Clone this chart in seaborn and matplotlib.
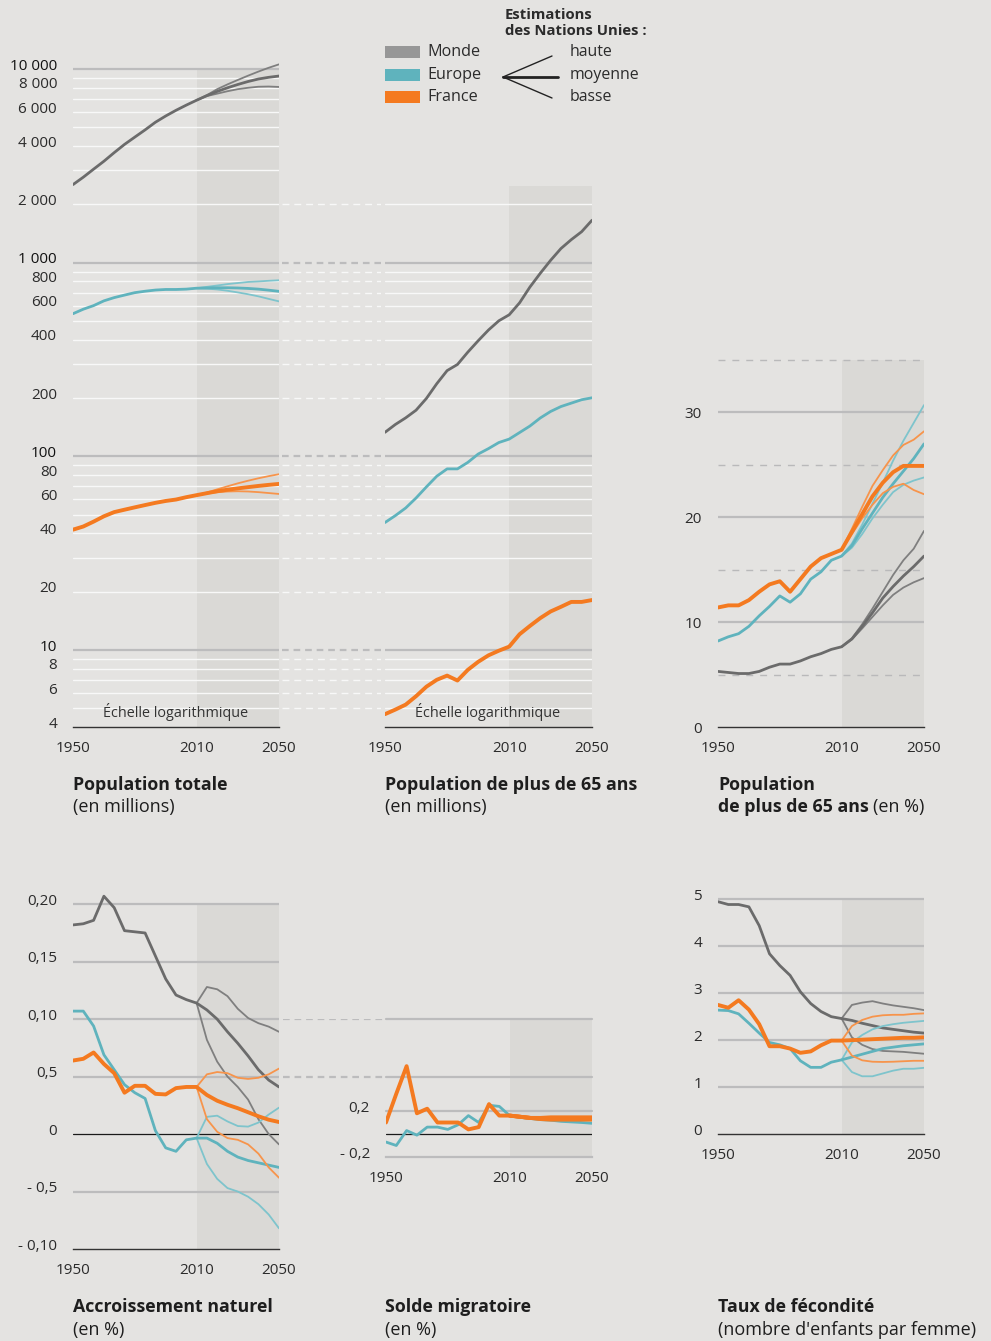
import matplotlib
matplotlib.use("Agg")
import matplotlib.pyplot as plt
import matplotlib.transforms as mtransforms
from matplotlib.lines import Line2D
from matplotlib.patches import Rectangle
import seaborn as sns

sns.set_theme(style="white")
plt.rcParams['font.family'] = ['Open Sans', 'DejaVu Sans']

# ---------------- data ----------------
years_hist = [1950, 1955, 1960, 1965, 1970, 1975, 1980, 1985, 1990, 1995, 2000, 2005, 2010]
years_proj = [2010, 2015, 2020, 2025, 2030, 2035, 2040, 2045, 2050]
years_all = years_hist + years_proj[1:]

# population totale (millions)
tot_monde = [2530, 2763, 3040, 3340, 3700, 4080, 4450, 4850, 5310, 5720, 6120, 6510, 6900]
tot_monde_haute = [6900, 7330, 7870, 8330, 8780, 9240, 9700, 10150, 10570]
tot_monde_moy = [6900, 7290, 7660, 8000, 8320, 8620, 8880, 9060, 9200]
tot_monde_basse = [6900, 7250, 7460, 7680, 7870, 8000, 8100, 8120, 8080]
tot_europe = [545, 575, 600, 635, 660, 680, 700, 712, 722, 727, 727, 730, 738]
tot_europe_haute = [738, 750, 762, 775, 785, 795, 800, 806, 811]
tot_europe_moy = [738, 740, 742, 742, 740, 736, 730, 721, 711]
tot_europe_basse = [738, 734, 727, 716, 702, 687, 670, 650, 631]
tot_france = [41.8, 43.4, 46.0, 49.0, 51.5, 53.0, 54.5, 56.0, 57.5, 58.8, 59.8, 61.5, 63.0]
tot_france_haute = [63.0, 65.0, 67.5, 70.0, 72.5, 74.8, 77.0, 79.0, 80.8]
tot_france_moy = [63.0, 64.5, 66.0, 67.2, 68.3, 69.3, 70.3, 71.2, 72.0]
tot_france_basse = [63.0, 64.2, 65.2, 65.8, 66.0, 65.8, 65.3, 64.6, 63.9]

# population de plus de 65 ans (millions), 1950-2050
p65_monde = [133, 146, 158, 173, 199, 237, 277, 298, 345, 395, 449, 501, 538,
             620, 748, 881, 1028, 1183, 1315, 1445, 1656]
p65_europe = [45.5, 49.4, 54.1, 60.9, 69.5, 78.9, 86.1, 86.1, 93, 102.7, 109.6, 117.8, 122.7,
              132.6, 143.3, 157.7, 170.4, 180.7, 188.2, 196, 200.5]
p65_france = [4.66, 4.92, 5.22, 5.77, 6.46, 7.01, 7.37, 6.95, 7.89, 8.68, 9.38, 9.91, 10.4,
              12.05, 13.3, 14.6, 15.8, 16.7, 17.7, 17.7, 18.1]

# population de plus de 65 ans (%)
pct_monde = [5.3, 5.2, 5.1, 5.1, 5.3, 5.7, 6.0, 6.0, 6.3, 6.7, 7.0, 7.4, 7.65]
pct_monde_haute = [7.65, 8.45, 9.8, 11.3, 12.9, 14.5, 15.9, 17.0, 18.7]
pct_monde_moy = [7.65, 8.4, 9.6, 10.9, 12.3, 13.4, 14.4, 15.3, 16.3]
pct_monde_basse = [7.65, 8.35, 9.4, 10.5, 11.6, 12.6, 13.3, 13.8, 14.2]
pct_europe = [8.2, 8.6, 8.9, 9.6, 10.6, 11.5, 12.5, 11.9, 12.7, 14.1, 14.8, 15.9, 16.3]
pct_europe_haute = [16.3, 17.5, 19.3, 21.3, 23.3, 25.4, 27.3, 29.0, 30.7]
pct_europe_moy = [16.3, 17.3, 18.9, 20.4, 21.9, 23.2, 24.4, 25.6, 27.0]
pct_europe_basse = [16.3, 17.1, 18.4, 19.9, 21.2, 22.4, 23.1, 23.5, 23.8]
pct_france = [11.4, 11.6, 11.6, 12.1, 12.9, 13.6, 13.9, 12.9, 14.1, 15.3, 16.1, 16.5, 16.9]
pct_france_haute = [16.9, 18.9, 21.0, 23.0, 24.5, 25.9, 26.9, 27.4, 28.2]
pct_france_moy = [16.9, 18.6, 20.3, 22.0, 23.3, 24.3, 24.9, 24.9, 24.9]
pct_france_basse = [16.9, 18.4, 19.9, 21.2, 22.3, 22.9, 23.2, 22.6, 22.2]

# accroissement naturel (%)
nat_monde = [1.82, 1.83, 1.86, 2.07, 1.97, 1.77, 1.76, 1.75, 1.55, 1.35, 1.21, 1.17, 1.14]
nat_monde_haute = [1.14, 1.28, 1.26, 1.20, 1.09, 1.01, 0.965, 0.935, 0.89]
nat_monde_moy = [1.14, 1.08, 1.00, 0.89, 0.79, 0.68, 0.56, 0.47, 0.41]
nat_monde_basse = [1.14, 0.82, 0.63, 0.50, 0.41, 0.30, 0.13, 0.00, -0.09]
nat_europe = [1.07, 1.07, 0.94, 0.69, 0.56, 0.43, 0.36, 0.31, 0.03, -0.12, -0.15, -0.05, -0.035]
nat_europe_haute = [-0.035, 0.15, 0.16, 0.11, 0.07, 0.065, 0.10, 0.17, 0.23]
nat_europe_moy = [-0.035, -0.035, -0.08, -0.15, -0.20, -0.23, -0.25, -0.27, -0.29]
nat_europe_basse = [-0.035, -0.26, -0.39, -0.47, -0.50, -0.545, -0.61, -0.70, -0.82]
nat_france = [0.64, 0.655, 0.71, 0.61, 0.53, 0.36, 0.42, 0.42, 0.35, 0.345, 0.40, 0.41, 0.41]
nat_france_haute = [0.41, 0.52, 0.54, 0.53, 0.49, 0.48, 0.49, 0.52, 0.57]
nat_france_moy = [0.41, 0.34, 0.29, 0.255, 0.225, 0.19, 0.155, 0.125, 0.105]
nat_france_basse = [0.41, 0.13, 0.02, -0.035, -0.05, -0.09, -0.17, -0.29, -0.38]

# solde migratoire (%)
mig_europe = [-0.07, -0.10, 0.03, -0.01, 0.06, 0.06, 0.04, 0.08, 0.16, 0.10, 0.25, 0.24, 0.16]
mig_europe_moy = [0.16, 0.145, 0.135, 0.125, 0.12, 0.11, 0.105, 0.10, 0.093]
mig_france = [0.10, 0.35, 0.59, 0.18, 0.22, 0.10, 0.10, 0.10, 0.04, 0.06, 0.26, 0.16, 0.16]
mig_france_haute = [0.16, 0.15, 0.14, 0.14, 0.145, 0.145, 0.145, 0.145, 0.145]
mig_france_moy = [0.16, 0.15, 0.14, 0.135, 0.135, 0.135, 0.135, 0.135, 0.135]
mig_france_basse = [0.16, 0.15, 0.14, 0.13, 0.125, 0.125, 0.125, 0.125, 0.125]

# taux de fecondite
fec_monde = [4.95, 4.89, 4.89, 4.84, 4.44, 3.84, 3.59, 3.38, 3.03, 2.78, 2.61, 2.50, 2.46]
fec_monde_haute = [2.46, 2.75, 2.80, 2.83, 2.78, 2.74, 2.71, 2.68, 2.64]
fec_monde_moy = [2.46, 2.42, 2.36, 2.31, 2.26, 2.23, 2.20, 2.17, 2.15]
fec_monde_basse = [2.46, 2.06, 1.90, 1.81, 1.77, 1.76, 1.75, 1.73, 1.71]
fec_europe = [2.64, 2.63, 2.56, 2.36, 2.15, 1.95, 1.90, 1.82, 1.56, 1.42, 1.42, 1.53, 1.58]
fec_europe_haute = [1.58, 1.95, 2.11, 2.23, 2.30, 2.34, 2.37, 2.39, 2.41]
fec_europe_moy = [1.58, 1.64, 1.70, 1.76, 1.82, 1.85, 1.88, 1.90, 1.92]
fec_europe_basse = [1.58, 1.32, 1.23, 1.23, 1.29, 1.35, 1.39, 1.39, 1.41]
fec_france = [2.75, 2.69, 2.85, 2.65, 2.34, 1.87, 1.87, 1.82, 1.73, 1.76, 1.89, 1.99, 1.99]
fec_france_haute = [1.99, 2.30, 2.43, 2.50, 2.53, 2.54, 2.54, 2.56, 2.57]
fec_france_moy = [1.99, 2.00, 2.01, 2.02, 2.03, 2.04, 2.05, 2.05, 2.06]
fec_france_basse = [1.99, 1.67, 1.57, 1.54, 1.535, 1.54, 1.55, 1.56, 1.56]

# ---------------- style ----------------
W, H = 991, 1341
BG = '#e4e3e1'
SHADE = '#dad9d6'
GRID = '#bcbcbd'
WHITE = '#f8f8f8'
TXT = '#2b2b2b'
GREY, GREY_T = '#6b6b6b', '#7f7f7f'
TEAL, TEAL_T = '#5fb3bd', '#7ec4cc'
ORANGE, ORANGE_T = '#f47a20', '#f7944b'
FS = 11
THIN = 1.3

fig = plt.figure(figsize=(W / 100, H / 100), dpi=100, facecolor=BG)


def ax_at(x0, x1, y_top, y_bot):
    ax = fig.add_axes([x0 / W, 1 - y_bot / H, (x1 - x0) / W, (y_bot - y_top) / H])
    ax.set_facecolor('none')
    for s in ['top', 'right', 'left']:
        ax.spines[s].set_visible(False)
    return ax


def line(ax, x, y, color, lw, z=3):
    sns.lineplot(x=x, y=y, ax=ax, color=color, linewidth=lw, legend=False, zorder=z,
                 solid_capstyle='round', solid_joinstyle='round')


def variants(ax, hist, haute, moy, basse, c, ct, lw, z):
    line(ax, years_proj, haute, ct, THIN, z)
    line(ax, years_proj, basse, ct, THIN, z)
    line(ax, years_all, hist + moy[1:], c, lw, z + 0.5)


def finish(ax, ylim, yticks, ylabels, lift=3.5, spine='#333333'):
    ax.set_xlim(1950, 2050)
    ax.set_ylim(*ylim)
    ax.set_xlabel('')
    ax.set_ylabel('')
    ax.set_xticks([1950, 2010, 2050])
    ax.set_xticklabels(['1950', '2010', '2050'])
    ax.set_yticks(yticks)
    ax.set_yticklabels(ylabels)
    ax.minorticks_off()
    ax.spines['bottom'].set_color(spine)
    ax.spines['bottom'].set_linewidth(1.0)
    ax.tick_params(axis='x', direction='out', length=5, width=1, color='#333333',
                   labelsize=FS, labelcolor=TXT, pad=5)
    ax.tick_params(axis='y', length=0, labelsize=FS, labelcolor=TXT, pad=11.5)
    off = mtransforms.ScaledTranslation(0, lift / 72, fig.dpi_scale_trans)
    for lab in ax.get_yticklabels():
        lab.set_transform(lab.get_transform() + off)


def shade(ax, lo, hi):
    ax.fill_between([2010, 2050], lo, hi, color=SHADE, lw=0, zorder=0)


log_minor = [m * 10 ** k for k in range(0, 4) for m in range(2, 10)]
log_major = [10, 100, 1000, 10000]

# ---------------- panel 1 : population totale ----------------
ax1 = ax_at(73, 279, 61, 727)
ax1.set_yscale('log')
shade(ax1, 4, 10000)
for v in log_minor:
    if 4 < v < 10000:
        ax1.axhline(v, color=WHITE, lw=1.0, zorder=1)
for v in log_major:
    ax1.axhline(v, color=GRID, lw=1.6, zorder=1)
variants(ax1, tot_monde, tot_monde_haute, tot_monde_moy, tot_monde_basse, GREY, GREY_T, 2.0, 3)
variants(ax1, tot_europe, tot_europe_haute, tot_europe_moy, tot_europe_basse, TEAL, TEAL_T, 2.0, 4)
variants(ax1, tot_france, tot_france_haute, tot_france_moy, tot_france_basse, ORANGE, ORANGE_T, 2.8, 5)
t1 = [4, 6, 8, 10, 20, 40, 60, 80, 100, 200, 400, 600, 800, 1000, 2000, 4000, 6000, 8000, 10000]
l1 = ['4', '6', '8', '10', '20', '40', '60', '80', '100', '200', '400', '600', '800',
      '1 000', '2 000', '4 000', '6 000', '8 000', '10 000']
finish(ax1, (4, 11000), t1, l1)
for lab in ax1.get_yticklabels():
    if lab.get_text() in ('10', '100', '1 000', '10 000'):
        lab.set_color('#111111')

# dashed continuation between panels 1 and 2
gap1 = ax_at(282, 381, 61, 727)
gap1.axis('off')
gap1.set_yscale('log')
gap1.set_ylim(4, 11000)
gap1.set_xlim(0, 1)
for v in log_minor:
    if 4 < v <= 2000:
        gap1.axhline(v, color=WHITE, lw=1.0, dashes=(5, 3.5), zorder=1)
for v in [10, 100, 1000]:
    gap1.axhline(v, color=GRID, lw=1.6, dashes=(3, 2.2), zorder=1)

# ---------------- panel 2 : population 65+ (millions) ----------------
ax2 = ax_at(385, 592, 61, 727)
ax2.set_yscale('log')
shade(ax2, 4, 2500)
for v in log_minor:
    if 4 < v <= 2000:
        ax2.axhline(v, color=WHITE, lw=1.0, zorder=1)
for v in [10, 100, 1000]:
    ax2.axhline(v, color=GRID, lw=1.6, zorder=1)
line(ax2, years_all, p65_monde, GREY, 2.0, 3)
line(ax2, years_all, p65_europe, TEAL, 2.0, 4)
line(ax2, years_all, p65_france, ORANGE, 2.8, 5)
finish(ax2, (4, 11000), [], [])

for xc in (176, 488):
    fig.text(xc / W, 1 - 712 / H, 'Échelle logarithmique', ha='center', va='center',
             fontsize=10.4, color='#333333')

# ---------------- panel 3 : population 65+ (%) ----------------
ax3 = ax_at(718, 924, 360, 727)
shade(ax3, 0, 35)
for v in [10, 20, 30]:
    ax3.axhline(v, color=GRID, lw=1.6, zorder=1)
for v in [5, 15, 25, 35]:
    ax3.axhline(v, color='#b9b9ba', lw=1.0, dashes=(5, 5), zorder=1, clip_on=False)
variants(ax3, pct_monde, pct_monde_haute, pct_monde_moy, pct_monde_basse, GREY, GREY_T, 2.0, 3)
variants(ax3, pct_europe, pct_europe_haute, pct_europe_moy, pct_europe_basse, TEAL, TEAL_T, 2.0, 4)
variants(ax3, pct_france, pct_france_haute, pct_france_moy, pct_france_basse, ORANGE, ORANGE_T, 2.8, 5)
finish(ax3, (0, 35), [0, 10, 20, 30], ['0', '10', '20', '30'], lift=0)

# ---------------- panel 4 : accroissement naturel ----------------
ax4 = ax_at(73, 279, 887, 1249)
shade(ax4, -1.0, 2.0)
for v in [2.0, 1.5, 1.0, 0.5, -0.5]:
    ax4.axhline(v, color=GRID, lw=1.6, zorder=1)
ax4.axhline(0, color='#1a1a1a', lw=0.9, zorder=2)
variants(ax4, nat_monde, nat_monde_haute, nat_monde_moy, nat_monde_basse, GREY, GREY_T, 2.0, 3)
variants(ax4, nat_europe, nat_europe_haute, nat_europe_moy, nat_europe_basse, TEAL, TEAL_T, 2.0, 4)
variants(ax4, nat_france, nat_france_haute, nat_france_moy, nat_france_basse, ORANGE, ORANGE_T, 2.8, 5)
finish(ax4, (-1.0, 2.15), [2.0, 1.5, 1.0, 0.5, 0, -0.5, -1.0],
       ['0,20', '0,15', '0,10', '0,5', '0', '- 0,5', '- 0,10'])

gap2 = ax_at(283, 383, 1019, 1157)
gap2.axis('off')
gap2.set_ylim(-0.2, 1.0)
gap2.set_xlim(0, 1)
for v in [1.0, 0.5]:
    gap2.axhline(v, color=GRID, lw=1.6, dashes=(3, 2.2), zorder=1)

# ---------------- panel 5 : solde migratoire ----------------
ax5 = ax_at(386, 592, 1019, 1157)
shade(ax5, -0.2, 1.0)
for v in [1.0, 0.5, 0.2]:
    ax5.axhline(v, color=GRID, lw=1.6, zorder=1, clip_on=False)
ax5.axhline(0, color='#1a1a1a', lw=0.9, zorder=2)
line(ax5, years_all, mig_europe + mig_europe_moy[1:], TEAL, 2.0, 4)
line(ax5, years_proj, mig_france_haute, ORANGE, 2.8, 5)
line(ax5, years_proj, mig_france_basse, ORANGE, 2.8, 5)
line(ax5, years_all, mig_france + mig_france_moy[1:], ORANGE, 2.8, 5.5)
finish(ax5, (-0.2, 1.0), [0.2, -0.2], ['0,2', '- 0,2'], lift=3, spine=GRID)
ax5.spines['bottom'].set_linewidth(1.6)

# ---------------- panel 6 : fecondite ----------------
ax6 = ax_at(718, 924, 897, 1134)
shade(ax6, 0, 5)
for v in [1, 2, 3, 4, 5]:
    ax6.axhline(v, color=GRID, lw=1.6, zorder=1)
variants(ax6, fec_monde, fec_monde_haute, fec_monde_moy, fec_monde_basse, GREY, GREY_T, 2.0, 3)
variants(ax6, fec_europe, fec_europe_haute, fec_europe_moy, fec_europe_basse, TEAL, TEAL_T, 2.0, 4)
variants(ax6, fec_france, fec_france_haute, fec_france_moy, fec_france_basse, ORANGE, ORANGE_T, 2.8, 5)
finish(ax6, (0, 5.05), [0, 1, 2, 3, 4, 5], ['0', '1', '2', '3', '4', '5'])

# ---------------- titles ----------------
def ftext(x, y, s, bold=False, **kw):
    return fig.text(x / W, 1 - y / H, s, fontsize=12.8 if bold else 13.0, color='#1e1e1e',
                    fontweight='bold' if bold else 'normal', va='baseline', **kw)


ftext(73, 790, 'Population totale', bold=True)
ftext(73, 812, '(en millions)')
ftext(385, 790, 'Population de plus de 65 ans', bold=True)
ftext(385, 812, '(en millions)')
ftext(718, 790, 'Population', bold=True)
tb = ftext(718, 812, 'de plus de 65 ans', bold=True)
ftext(73, 1312, 'Accroissement naturel', bold=True)
ftext(73, 1335, '(en %)')
ftext(385, 1312, 'Solde migratoire', bold=True)
ftext(385, 1335, '(en %)')
ftext(718, 1312, 'Taux de fécondité', bold=True)
ftext(718, 1335, "(nombre d'enfants par femme)")

renderer = fig.canvas.get_renderer()
bb = tb.get_window_extent(renderer)
ftext(bb.x1 + 4, 812, '(en %)')

# ---------------- legend ----------------
for yc, c, name in [(52, '#979797', 'Monde'), (75, TEAL, 'Europe'), (97, ORANGE, 'France')]:
    fig.add_artist(Rectangle((385 / W, 1 - (yc + 5.5) / H), 35 / W, 11 / H,
                             transform=fig.transFigure, color=c, lw=0))
    fig.text(427 / W, 1 - yc / H, name, fontsize=11.6, color=TXT, va='center')

fig.text(505 / W, 1 - 15 / H, 'Estimations', fontsize=10.7, fontweight='bold', color=TXT,
         va='center')
fig.text(505 / W, 1 - 31 / H, 'des Nations Unies :', fontsize=10.7, fontweight='bold', color=TXT,
         va='center')
for x2, y2, lw in [(552, 56, 1.0), (558, 77, 2.0), (552, 98, 1.0)]:
    fig.add_artist(Line2D([503 / W, x2 / W], [1 - 77 / H, 1 - y2 / H], transform=fig.transFigure,
                          color='#222222', lw=lw))
for yc, s in [(52, 'haute'), (75, 'moyenne'), (97, 'basse')]:
    fig.text(570 / W, 1 - yc / H, s, fontsize=11.4, color=TXT, va='center')

fig.savefig('out.png', dpi=100, facecolor=BG)
